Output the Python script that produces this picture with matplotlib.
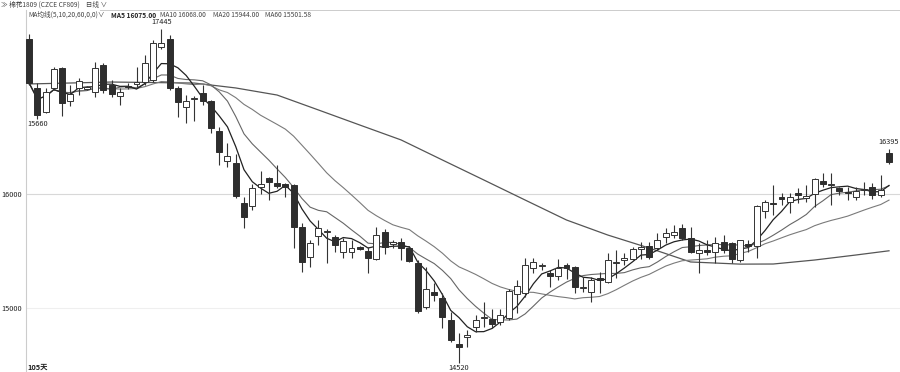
import matplotlib
matplotlib.use("Agg")
import matplotlib.pyplot as plt
import numpy as np
import pandas as pd

plt.rcParams['font.family'] = ['Noto Sans CJK SC', 'DejaVu Sans']

# OHLC data (105 daily candles)
opens = [17360,16930,16720,16930,17105,16815,16930,16925,16895,17130,
         16955,16860,16950,16965,16980,17000,17290,17360,16930,16765,
         16835,16885,16815,16555,16290,16270,15920,15895,16060,16140,
         16095,16090,16080,15710,15445,15630,15670,15625,15490,15490,
         15535,15500,15430,15665,15565,15580,15525,15395,15010,15140,
         15090,14895,14685,14745,14835,14915,14905,14875,14910,15125,
         15130,15350,15365,15305,15280,15375,15360,15180,15140,15265,
         15230,15395,15420,15430,15520,15545,15525,15625,15640,15700,
         15615,15485,15505,15490,15580,15570,15420,15560,15545,15850,
         15920,15975,15930,16010,15965,16000,16115,16080,16055,16020,
         15975,16035,16060,15990,16360]
highs = [17400,16975,16930,17115,17115,16955,17015,16950,17160,17150,
         17000,16930,16975,17115,17220,17350,17445,17395,16945,16870,
         16860,16955,16825,16590,16445,16350,15975,16090,16200,16150,
         16255,16100,16090,15745,15595,15770,15695,15640,15615,15595,
         15545,15535,15710,15695,15595,15615,15545,15420,15360,15220,
         15130,14965,14780,14805,14940,15055,14990,14990,15165,15245,
         15440,15440,15395,15335,15430,15395,15370,15270,15270,15315,
         15485,15510,15485,15535,15580,15580,15660,15700,15730,15735,
         15710,15570,15595,15625,15640,15580,15595,15595,15905,15945,
         16080,16010,16010,16055,16080,16140,16185,16185,16060,16060,
         16060,16105,16095,16165,16395]
lows = [16955,16660,16710,16910,16685,16770,16870,16910,16850,16885,
        16850,16780,16920,16940,16955,16980,17270,16910,16675,16625,
        16640,16780,16535,16255,16235,15965,15700,15860,16000,15945,
        16055,15975,15525,15315,15360,15555,15395,15490,15440,15440,
        15505,15305,15420,15475,15525,15420,15405,14955,14990,15060,
        14825,14700,14520,14660,14790,14835,14825,14850,14895,14955,
        15095,15305,15335,15185,15245,15255,15130,15140,15055,15130,
        15220,15265,15375,15420,15430,15430,15510,15570,15615,15595,
        15485,15305,15465,15395,15485,15395,15405,15490,15440,15790,
        15815,15905,15835,15920,15930,15885,16060,15905,15990,15945,
        15945,15990,15955,15975,16265]
closes = [16975,16695,16895,17095,16800,16875,16990,16935,17105,16910,
          16875,16895,16940,16980,17150,17325,17325,16930,16805,16815,
          16845,16815,16580,16370,16335,15980,15800,16055,16090,16105,
          16070,16060,15710,15405,15570,15700,15675,15555,15590,15525,
          15520,15440,15640,15535,15575,15525,15410,14975,15165,15115,
          14920,14720,14660,14765,14895,14925,14860,14940,15150,15195,
          15375,15405,15370,15280,15350,15350,15185,15185,15245,15245,
          15420,15405,15440,15520,15535,15450,15595,15660,15665,15615,
          15490,15510,15490,15570,15510,15430,15595,15545,15895,15930,
          15910,15955,15975,15990,15980,16130,16090,16090,16025,16010,
          16025,16045,15990,16035,16280]

# MA60 (index, value)
ma60_idx = [0, 10, 20, 25, 30, 35, 40, 45, 50, 55, 60, 65, 70, 75, 80, 86, 90, 95, 100, 104]
ma60_val = [16965, 16982, 16973, 16930, 16868, 16737, 16605, 16474, 16298, 16123,
            15947, 15772, 15640, 15526, 15404, 15385, 15386, 15421, 15465, 15502]

yticks = [15000, 16000]
extreme_labels = [(16, "17445", "top"), (1, "15660", "bottom"), (52, "14520", "bottom"), (104, "16395", "top")]

W, H = 900, 372
fig = plt.figure(figsize=(W / 100, H / 100), dpi=100)
ax = fig.add_axes([26 / W, 0, 874 / W, 362 / H])
# axes covers pixel rows 10..372 ; 16000 at row 194, 114 px per 1000
ytop = 16000 + (194 - 10) * 8.77
ybot = 16000 + (194 - 372) * 8.77
ax.set_ylim(ybot, ytop)
ax.set_xlim(-0.363, 105.33)

n = len(closes)
x = np.arange(n)
s = pd.Series(closes)
ma5 = s.rolling(5, min_periods=1).mean()
ma10 = s.rolling(10, min_periods=1).mean()
ma20 = s.rolling(20, min_periods=1).mean()

ax.axhline(16000, color='#d8d8d8', lw=0.8, zorder=0)
ax.axhline(15000, color='#efefef', lw=0.8, zorder=0)

ax.plot(ma60_idx, ma60_val, color='#555555', lw=0.9, zorder=1)
ax.plot(x, ma20, color='#7a7a7a', lw=0.8, zorder=1)
ax.plot(x, ma10, color='#666666', lw=0.8, zorder=1)
ax.plot(x, ma5, color='#222222', lw=0.9, zorder=1)

bw = 0.72
for i in range(n):
    o, h, l, c = opens[i], highs[i], lows[i], closes[i]
    ax.vlines(i, l, h, color='#333333', lw=0.8, zorder=2)
    bottom = min(o, c)
    height = max(abs(c - o), 8)
    if c >= o:
        ax.bar(i, height, bottom=bottom, width=bw, facecolor='white', edgecolor='#333333', lw=0.7, zorder=3)
    else:
        ax.bar(i, height, bottom=bottom, width=bw, facecolor='#2e2e2e', edgecolor='#2e2e2e', lw=0.7, zorder=3)

for idx, txt, pos in extreme_labels:
    if pos == "top":
        ax.text(idx, highs[idx] + 30, txt, ha='center', va='bottom', fontsize=5.3, color='#222222', zorder=4)
    else:
        ax.text(idx, lows[idx] - 15, txt, ha='center', va='top', fontsize=5.3, color='#222222', zorder=4)

ax.set_yticks(yticks)
ax.set_yticklabels([str(v) for v in yticks], fontsize=5.3, color='#222222')
ax.tick_params(axis='y', length=0, pad=3)
ax.set_xticks([])
for sp in ['top', 'right', 'bottom']:
    ax.spines[sp].set_visible(False)
ax.spines['left'].set_color('#cccccc')
ax.spines['left'].set_linewidth(0.8)

# header
fig.text(1 / W, 1 - 5 / H, "≫ 棉花1809 (CZCE CF809)    日线 ∨", fontsize=4.8, color='#444444', va='center', ha='left')
fig.add_artist(plt.Line2D([100 / W, 1], [1 - 9.5 / H, 1 - 9.5 / H], color='#cccccc', lw=0.7))
fig.text(28 / W, 1 - 15 / H, "MA均线(5,10,20,60,0,0)∨", fontsize=4.8, color='#444444', va='center', ha='left')
fig.text(111 / W, 1 - 15 / H, "MA5 16075.00", fontsize=4.8, color='#222222', va='center', ha='left', fontweight='bold')
fig.text(160 / W, 1 - 15 / H, "MA10 16068.00", fontsize=4.8, color='#444444', va='center', ha='left')
fig.text(213 / W, 1 - 15 / H, "MA20 15944.00", fontsize=4.8, color='#444444', va='center', ha='left')
fig.text(265 / W, 1 - 15 / H, "MA60 15501.58", fontsize=4.8, color='#444444', va='center', ha='left')
fig.text(27 / W, 1 - 367 / H, "105天", fontsize=5.3, color='#222222', va='center', ha='left', fontweight='bold')

fig.savefig("out.png", dpi=100)
